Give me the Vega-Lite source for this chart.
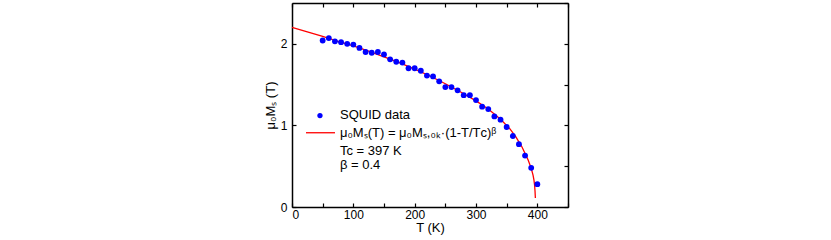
{
  "$schema": "https://vega.github.io/schema/vega-lite/v6.json",
  "width": 276,
  "height": 204,
  "autosize": {"type": "none"},
  "padding": {"left": 292, "top": 3, "right": 263, "bottom": 33},
  "background": "white",
  "config": {
    "view": {"stroke": null},
    "font": "Liberation Sans",
    "axis": {
      "domainColor": "#000", "domainWidth": 1.5,
      "tickColor": "#000", "tickWidth": 1.2, "tickSize": -4,
      "grid": false,
      "labelFont": "Liberation Sans", "labelFontSize": 12, "labelColor": "#000",
      "titleFont": "Liberation Sans", "titleFontSize": 13, "titleFontWeight": "normal", "titleColor": "#000"
    }
  },
  "datasets": {
    "fit": [
      {"T": 0, "M": 2.2}, {"T": 25, "M": 2.145}, {"T": 50, "M": 2.09}, {"T": 75, "M": 2.03},
      {"T": 100, "M": 1.975}, {"T": 125, "M": 1.91}, {"T": 150, "M": 1.84}, {"T": 175, "M": 1.77},
      {"T": 200, "M": 1.69}, {"T": 225, "M": 1.605}, {"T": 250, "M": 1.51}, {"T": 275, "M": 1.41},
      {"T": 300, "M": 1.3}, {"T": 320, "M": 1.2}, {"T": 340, "M": 1.075}, {"T": 355, "M": 0.96},
      {"T": 365, "M": 0.86}, {"T": 375, "M": 0.735}, {"T": 380, "M": 0.655}, {"T": 385, "M": 0.575},
      {"T": 390, "M": 0.475}, {"T": 393, "M": 0.39}, {"T": 394.5, "M": 0.33}, {"T": 395.5, "M": 0.27},
      {"T": 396.2, "M": 0.2}, {"T": 396.6, "M": 0.14}, {"T": 396.8, "M": 0.11}
    ],
    "squid": [
      {"T": 50, "M": 2.04}, {"T": 60, "M": 2.07}, {"T": 70, "M": 2.03}, {"T": 80, "M": 2.02},
      {"T": 90, "M": 2.0}, {"T": 100, "M": 1.99}, {"T": 110, "M": 1.95}, {"T": 120, "M": 1.9},
      {"T": 130, "M": 1.89}, {"T": 140, "M": 1.9}, {"T": 150, "M": 1.87}, {"T": 160, "M": 1.81},
      {"T": 170, "M": 1.78}, {"T": 180, "M": 1.77}, {"T": 190, "M": 1.7}, {"T": 200, "M": 1.7},
      {"T": 210, "M": 1.67}, {"T": 220, "M": 1.61}, {"T": 230, "M": 1.6}, {"T": 240, "M": 1.54},
      {"T": 250, "M": 1.47}, {"T": 260, "M": 1.47}, {"T": 270, "M": 1.43}, {"T": 280, "M": 1.37},
      {"T": 290, "M": 1.37}, {"T": 300, "M": 1.31}, {"T": 310, "M": 1.23}, {"T": 320, "M": 1.2},
      {"T": 330, "M": 1.11}, {"T": 340, "M": 1.07}, {"T": 350, "M": 0.98}, {"T": 360, "M": 0.87},
      {"T": 370, "M": 0.77}, {"T": 380, "M": 0.63}, {"T": 390, "M": 0.48}, {"T": 400, "M": 0.28}
    ],
    "one": [{}]
  },
  "layer": [
    {
      "data": {"name": "fit"},
      "mark": {"type": "line", "color": "#ff0000", "strokeWidth": 1.3},
      "encoding": {
        "x": {"field": "T", "type": "quantitative",
          "scale": {"domain": [0, 450], "nice": false, "zero": false},
          "axis": {"orient": "bottom", "values": [0, 50, 100, 150, 200, 250, 300, 350, 400, 450],
            "format": "d",
            "labelExpr": "datum.value % 100 == 0 ? datum.label : ''",
            "title": "T (K)", "labelPadding": 6, "titlePadding": 1}},
        "y": {"field": "M", "type": "quantitative",
          "scale": {"domain": [0, 2.5], "nice": false},
          "axis": {"orient": "left", "values": [0, 0.5, 1, 1.5, 2, 2.5],
            "format": "d",
            "labelExpr": "datum.value % 1 == 0 ? datum.label : ''",
            "title": "μ₀Mₛ (T)", "labelPadding": 9, "titlePadding": 3}}
      }
    },
    {
      "data": {"name": "squid"},
      "mark": {"type": "point", "filled": true, "color": "#0000ff", "size": 34, "opacity": 1},
      "encoding": {
        "x": {"field": "T", "type": "quantitative",
          "axis": {"orient": "top", "labels": false, "title": null,
            "values": [0, 50, 100, 150, 200, 250, 300, 350, 400, 450]}},
        "y": {"field": "M", "type": "quantitative",
          "axis": {"orient": "right", "labels": false, "title": null,
            "values": [0, 0.5, 1, 1.5, 2, 2.5]}}
      }
    },
    {
      "data": {"name": "one"},
      "mark": {"type": "point", "filled": true, "color": "#0000ff", "size": 28, "opacity": 1},
      "encoding": {
        "x": {"datum": 45.6, "type": "quantitative", "axis": null},
        "y": {"datum": 1.12, "type": "quantitative", "axis": null}
      }
    },
    {
      "data": {"name": "one"},
      "mark": {"type": "rule", "color": "#ff0000", "strokeWidth": 1.3},
      "encoding": {
        "x": {"datum": 22.8, "type": "quantitative", "axis": null},
        "x2": {"datum": 70.1},
        "y": {"datum": 0.91, "type": "quantitative", "axis": null}
      }
    },
    {
      "data": {"name": "one"},
      "mark": {"type": "text", "text": "SQUID data", "align": "left", "baseline": "middle", "fontSize": 13, "font": "Liberation Sans", "color": "#000"},
      "encoding": {
        "x": {"datum": 78.2, "type": "quantitative", "axis": null},
        "y": {"datum": 1.127, "type": "quantitative", "axis": null}
      }
    },
    {
      "data": {"name": "one"},
      "mark": {"type": "text", "text": "μ₀Mₛ(T) = μ₀Mₛ,₀ₖ·(1-T/Tᴄ)ᵝ", "align": "left", "baseline": "middle", "fontSize": 13, "font": "Liberation Sans", "color": "#000"},
      "encoding": {
        "x": {"datum": 78.2, "type": "quantitative", "axis": null},
        "y": {"datum": 0.91, "type": "quantitative", "axis": null}
      }
    },
    {
      "data": {"name": "one"},
      "mark": {"type": "text", "text": "Tc = 397 K", "align": "left", "baseline": "middle", "fontSize": 13, "font": "Liberation Sans", "color": "#000"},
      "encoding": {
        "x": {"datum": 78.2, "type": "quantitative", "axis": null},
        "y": {"datum": 0.69, "type": "quantitative", "axis": null}
      }
    },
    {
      "data": {"name": "one"},
      "mark": {"type": "text", "text": "β = 0.4", "align": "left", "baseline": "middle", "fontSize": 13, "font": "Liberation Sans", "color": "#000"},
      "encoding": {
        "x": {"datum": 78.2, "type": "quantitative", "axis": null},
        "y": {"datum": 0.51, "type": "quantitative", "axis": null}
      }
    }
  ]
}
